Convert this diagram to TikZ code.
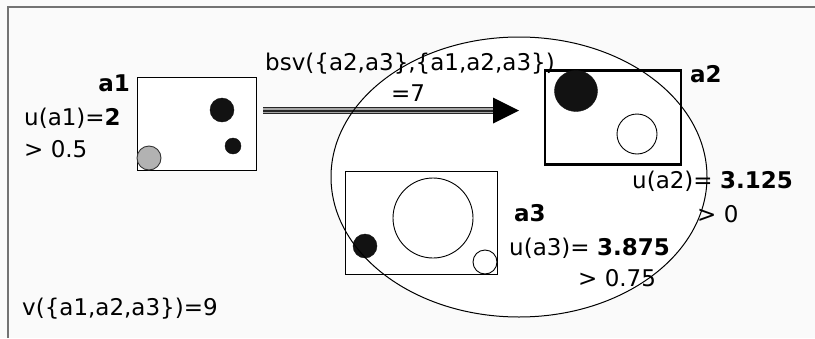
\documentclass[tikz,border=0pt]{standalone}
\usepackage{fontspec}
\setmainfont{DejaVu Sans}
\begin{document}
\begin{tikzpicture}[x=1pt,y=-1pt,
  lbl/.style={inner sep=0pt, font=\fontsize{23}{27}\selectfont},
  thinbox/.style={draw=black, fill=white, line width=1pt, inner sep=0pt},
  thickbox/.style={draw=black, fill=white, line width=2.7pt, inner sep=0pt},
  blackdot/.style={fill=black!93, draw=black!93},
  whitedot/.style={fill=white, draw=black, line width=0.9pt},
  greydot/.style={fill=black!30, draw=black!80, line width=0.9pt}]
\useasboundingbox (0,0) rectangle (815,338);
\fill[black!2] (0,0) rectangle (815,338);
\draw[black!55, line width=2pt] (7.5,338) -- (7.5,7) -- (815,7);
% coalition ellipse (fill)
\fill[white] (519,177) ellipse [x radius=188, y radius=140];
% agent boxes
\node[thinbox, minimum width=119pt, minimum height=93pt] (a1box) at (196.5,123.5) {};
\node[thickbox, minimum width=136pt, minimum height=94pt] (a2box) at (613,117.5) {};
\node[thinbox, minimum width=152pt, minimum height=103pt] (a3box) at (421,222.5) {};
% a1 contents
\draw[blackdot] (222,110) circle [radius=12];
\draw[blackdot] (233,146) circle [radius=8];
\draw[greydot] (149,158) circle [radius=12];
% a2 contents
\draw[blackdot] (576,91) ellipse [x radius=21.5, y radius=20.5];
\draw[whitedot] (637,134) circle [radius=20];
% a3 contents
\draw[whitedot] (433,218) circle [radius=40];
\draw[blackdot] (365,246) circle [radius=12];
\draw[whitedot] (485,262) circle [radius=12];
% arrow
\coordinate (arrS) at (263,110.5);
\coordinate (arrE) at (493,110.5);
\coordinate (arrT) at (519,110.5);
\draw[black!85, line width=7.5pt] (arrS) -- (arrE);
\draw[black!35, line width=5pt] (arrS) -- (arrE);
\draw[black!85, line width=2pt] (arrS) -- (arrE);
\fill[black] ([yshift=-13pt]arrE) -- (arrT) -- ([yshift=13pt]arrE) -- cycle;
% labels
\node[lbl, anchor=base east] (la1) at (130,91) {\textbf{a1}};
\node[lbl, anchor=base west] (ua1) at (24,125) {u(a1)=\textbf{2}};
\node[lbl, anchor=base west] (ga1) at (24,157) {> 0.5};
\node[lbl, anchor=base west] (bsv) at (265,70) {bsv(\{a2,a3\},\{a1,a2,a3\})};
\node[lbl, anchor=base] (eq7) at (408,101) {=7};
\node[lbl, anchor=base west] (la2) at (690,82) {\textbf{a2}};
\node[lbl, anchor=base west] (ua2) at (632,188) {u(a2)= \textbf{3.125}};
\node[lbl, anchor=base west] (ga2) at (697,222) {> 0};
\node[lbl, anchor=base west] (la3) at (514,221) {\textbf{a3}};
\node[lbl, anchor=base west] (ua3) at (509,255) {u(a3)= \textbf{3.875}};
\node[lbl, anchor=base west] (ga3) at (578,286) {> 0.75};
\node[lbl, anchor=base west] (vall) at (22,315) {v(\{a1,a2,a3\})=9};
% coalition ellipse outline
\draw[black, line width=1pt] (519,177) ellipse [x radius=188, y radius=140];
\end{tikzpicture}
\end{document}
